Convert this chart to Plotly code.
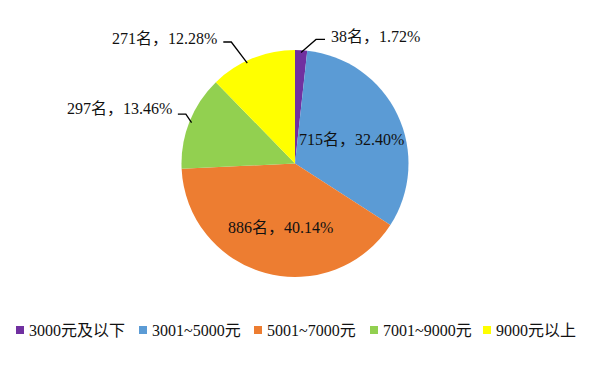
import math
import plotly.graph_objects as go

categories = ["3000元及以下", "3001~5000元", "5001~7000元", "7001~9000元", "9000元以上"]
values = [38, 715, 886, 297, 271]
colors = ["#7030A0", "#5B9BD5", "#ED7D31", "#92D050", "#FFFF00"]

W, H = 615, 376
CX, CY, R = 295, 163.5, 113.5

total = sum(values)
labels = [f"{v}名，{v / total * 100:.2f}%" for v in values]

# label styles: ("in", radius factor, angle shift deg)
#               ("out", start angle shift deg, elbow dx, elbow dy, horizontal len, text dy)
label_style = [
    ("out", 0, 15, -13, 9, -3),
    ("in", 0.537, 2.3),
    ("in", 0.577, -2.7),
    ("out", 0, -5.7, -8.5, -8, -6),
    ("out", -3.3, -16, -21, -8, -4),
]

# legend key positions (left edge of key squares, px) and row centre
legend_x = [16, 139, 254, 370, 483]
legend_y = 330

def px(x, y):
    return x / W, 1 - y / H

fig = go.Figure(go.Pie(
    labels=categories,
    values=values,
    marker=dict(colors=colors, line=dict(width=0)),
    sort=False,
    direction="clockwise",
    rotation=0,
    textinfo="none",
    hoverinfo="label+value+percent",
    showlegend=False,
    domain=dict(x=[(CX - R) / W, (CX + R) / W], y=[1 - (CY + R) / H, 1 - (CY - R) / H]),
))

annotations = []
shapes = []
font = dict(family="Liberation Serif, Noto Sans CJK SC", size=16, color="#111111")
cum = 0
for v, lab, st in zip(values, labels, label_style):
    mid = (cum + v / 2) / total * 2 * math.pi
    cum += v
    if st[0] == "in":
        rf, shift = st[1], math.radians(st[2])
        x = CX + R * rf * math.sin(mid + shift)
        y = CY - R * rf * math.cos(mid + shift)
        ax, ay = px(x, y)
        annotations.append(dict(x=ax, y=ay, xref="paper", yref="paper", text=lab,
                                showarrow=False, font=font, xanchor="center", yanchor="middle"))
    else:
        _, ash, edx, edy, hl, tdy = st
        a = mid + math.radians(ash)
        x0 = CX + R * 0.98 * math.sin(a)
        y0 = CY - R * 0.98 * math.cos(a)
        x1, y1 = x0 + edx, y0 + edy
        x2 = x1 + hl
        p0, p1, p2 = px(x0, y0), px(x1, y1), px(x2, y1)
        shapes.append(dict(type="path", xref="paper", yref="paper",
                           path=f"M{p0[0]},{p0[1]} L{p1[0]},{p1[1]} L{p2[0]},{p2[1]}",
                           line=dict(color="#000000", width=1.3)))
        tx, ty = px(x2 + (4 if hl > 0 else -4), y1 + tdy)
        annotations.append(dict(x=tx, y=ty, xref="paper", yref="paper", text=lab,
                                showarrow=False, font=font,
                                xanchor="left" if hl > 0 else "right", yanchor="middle"))

# legend (keys + labels)
legend_font = dict(family="Liberation Serif, Noto Sans CJK SC", size=16, color="#111111")
for name, col, lx in zip(categories, colors, legend_x):
    k0 = px(lx, legend_y - 4)
    k1 = px(lx + 8, legend_y + 4)
    shapes.append(dict(type="rect", xref="paper", yref="paper",
                       x0=k0[0], y0=k1[1], x1=k1[0], y1=k0[1],
                       fillcolor=col, line=dict(width=0)))
    tx, ty = px(lx + 11, legend_y)
    annotations.append(dict(x=tx, y=ty, xref="paper", yref="paper", text=name,
                            showarrow=False, font=legend_font, xanchor="left", yanchor="middle"))

fig.update_layout(
    width=W, height=H,
    margin=dict(l=0, r=0, t=0, b=0),
    paper_bgcolor="white",
    plot_bgcolor="white",
    annotations=annotations,
    shapes=shapes,
    showlegend=False,
)

fig.write_html("out.html", config={"displayModeBar": False},
               post_script="document.body.style.margin='0';")
